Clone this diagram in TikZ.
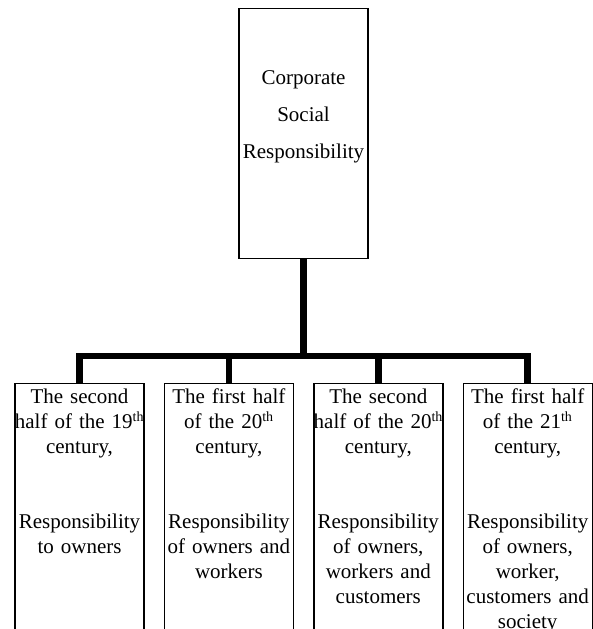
\documentclass[tikz,border=0pt]{standalone}
\usepackage{fontspec}
\setmainfont{Liberation Serif}[WordSpace=0.9]
\usepackage{tikz}
\usetikzlibrary{positioning,calc}
\newcommand{\ordsup}[1]{\textsuperscript{\fontsize{14}{14}\selectfont #1}}
\tikzset{
  topbox/.style={rectangle, draw=black, line width=1.4pt, align=center,
    inner xsep=-1.5pt, inner ysep=0pt, text width=132pt,
    font=\fontsize{21}{37}\selectfont, text height=76pt, text depth=174pt},
  period/.style={rectangle, draw=black, line width=1.4pt, align=center,
    inner xsep=-1.5pt, inner ysep=0pt, text width=132pt,
    font=\fontsize{21}{25}\selectfont, text height=20pt, text depth=250pt},
  link/.style={line width=6.6pt, draw=black},
}

\begin{document}
\begin{tikzpicture}[x=1pt, y=-1pt, node distance=19pt]
  \useasboundingbox (0,0) rectangle (593,629);
  \node[topbox, anchor=north] (csr) at (303.5,8)
    {Corporate\\Social\\Responsibility};
  \node[period, anchor=north] (s19) at (79.5,383)
    {The second\\half of the 19\ordsup{th}\\century,\\[50pt]Responsibility\\to owners};
  \node[period, right=of s19] (f20)
    {The first half\\of the 20\ordsup{th}\\century,\\[50pt]Responsibility\\of owners and\\workers};
  \node[period, right=of f20] (s20)
    {The second\\half of the 20\ordsup{th}\\century,\\[50pt]Responsibility\\of owners,\\workers and\\customers};
  \node[period, right=of s20] (f21)
    {The first half\\of the 21\ordsup{th}\\century,\\[50pt]Responsibility\\of owners,\\worker,\\customers and\\society};
  % tree lines
  \coordinate (hub) at (csr.south |- 0,356);
  \draw[link] (csr.south) -- (hub);
  \draw[link] (s19.north) |- (hub) -| (f21.north);
  \draw[link] (f20.north) -- (f20.north |- hub);
  \draw[link] (s20.north) -- (s20.north |- hub);
\end{tikzpicture}
\end{document}
